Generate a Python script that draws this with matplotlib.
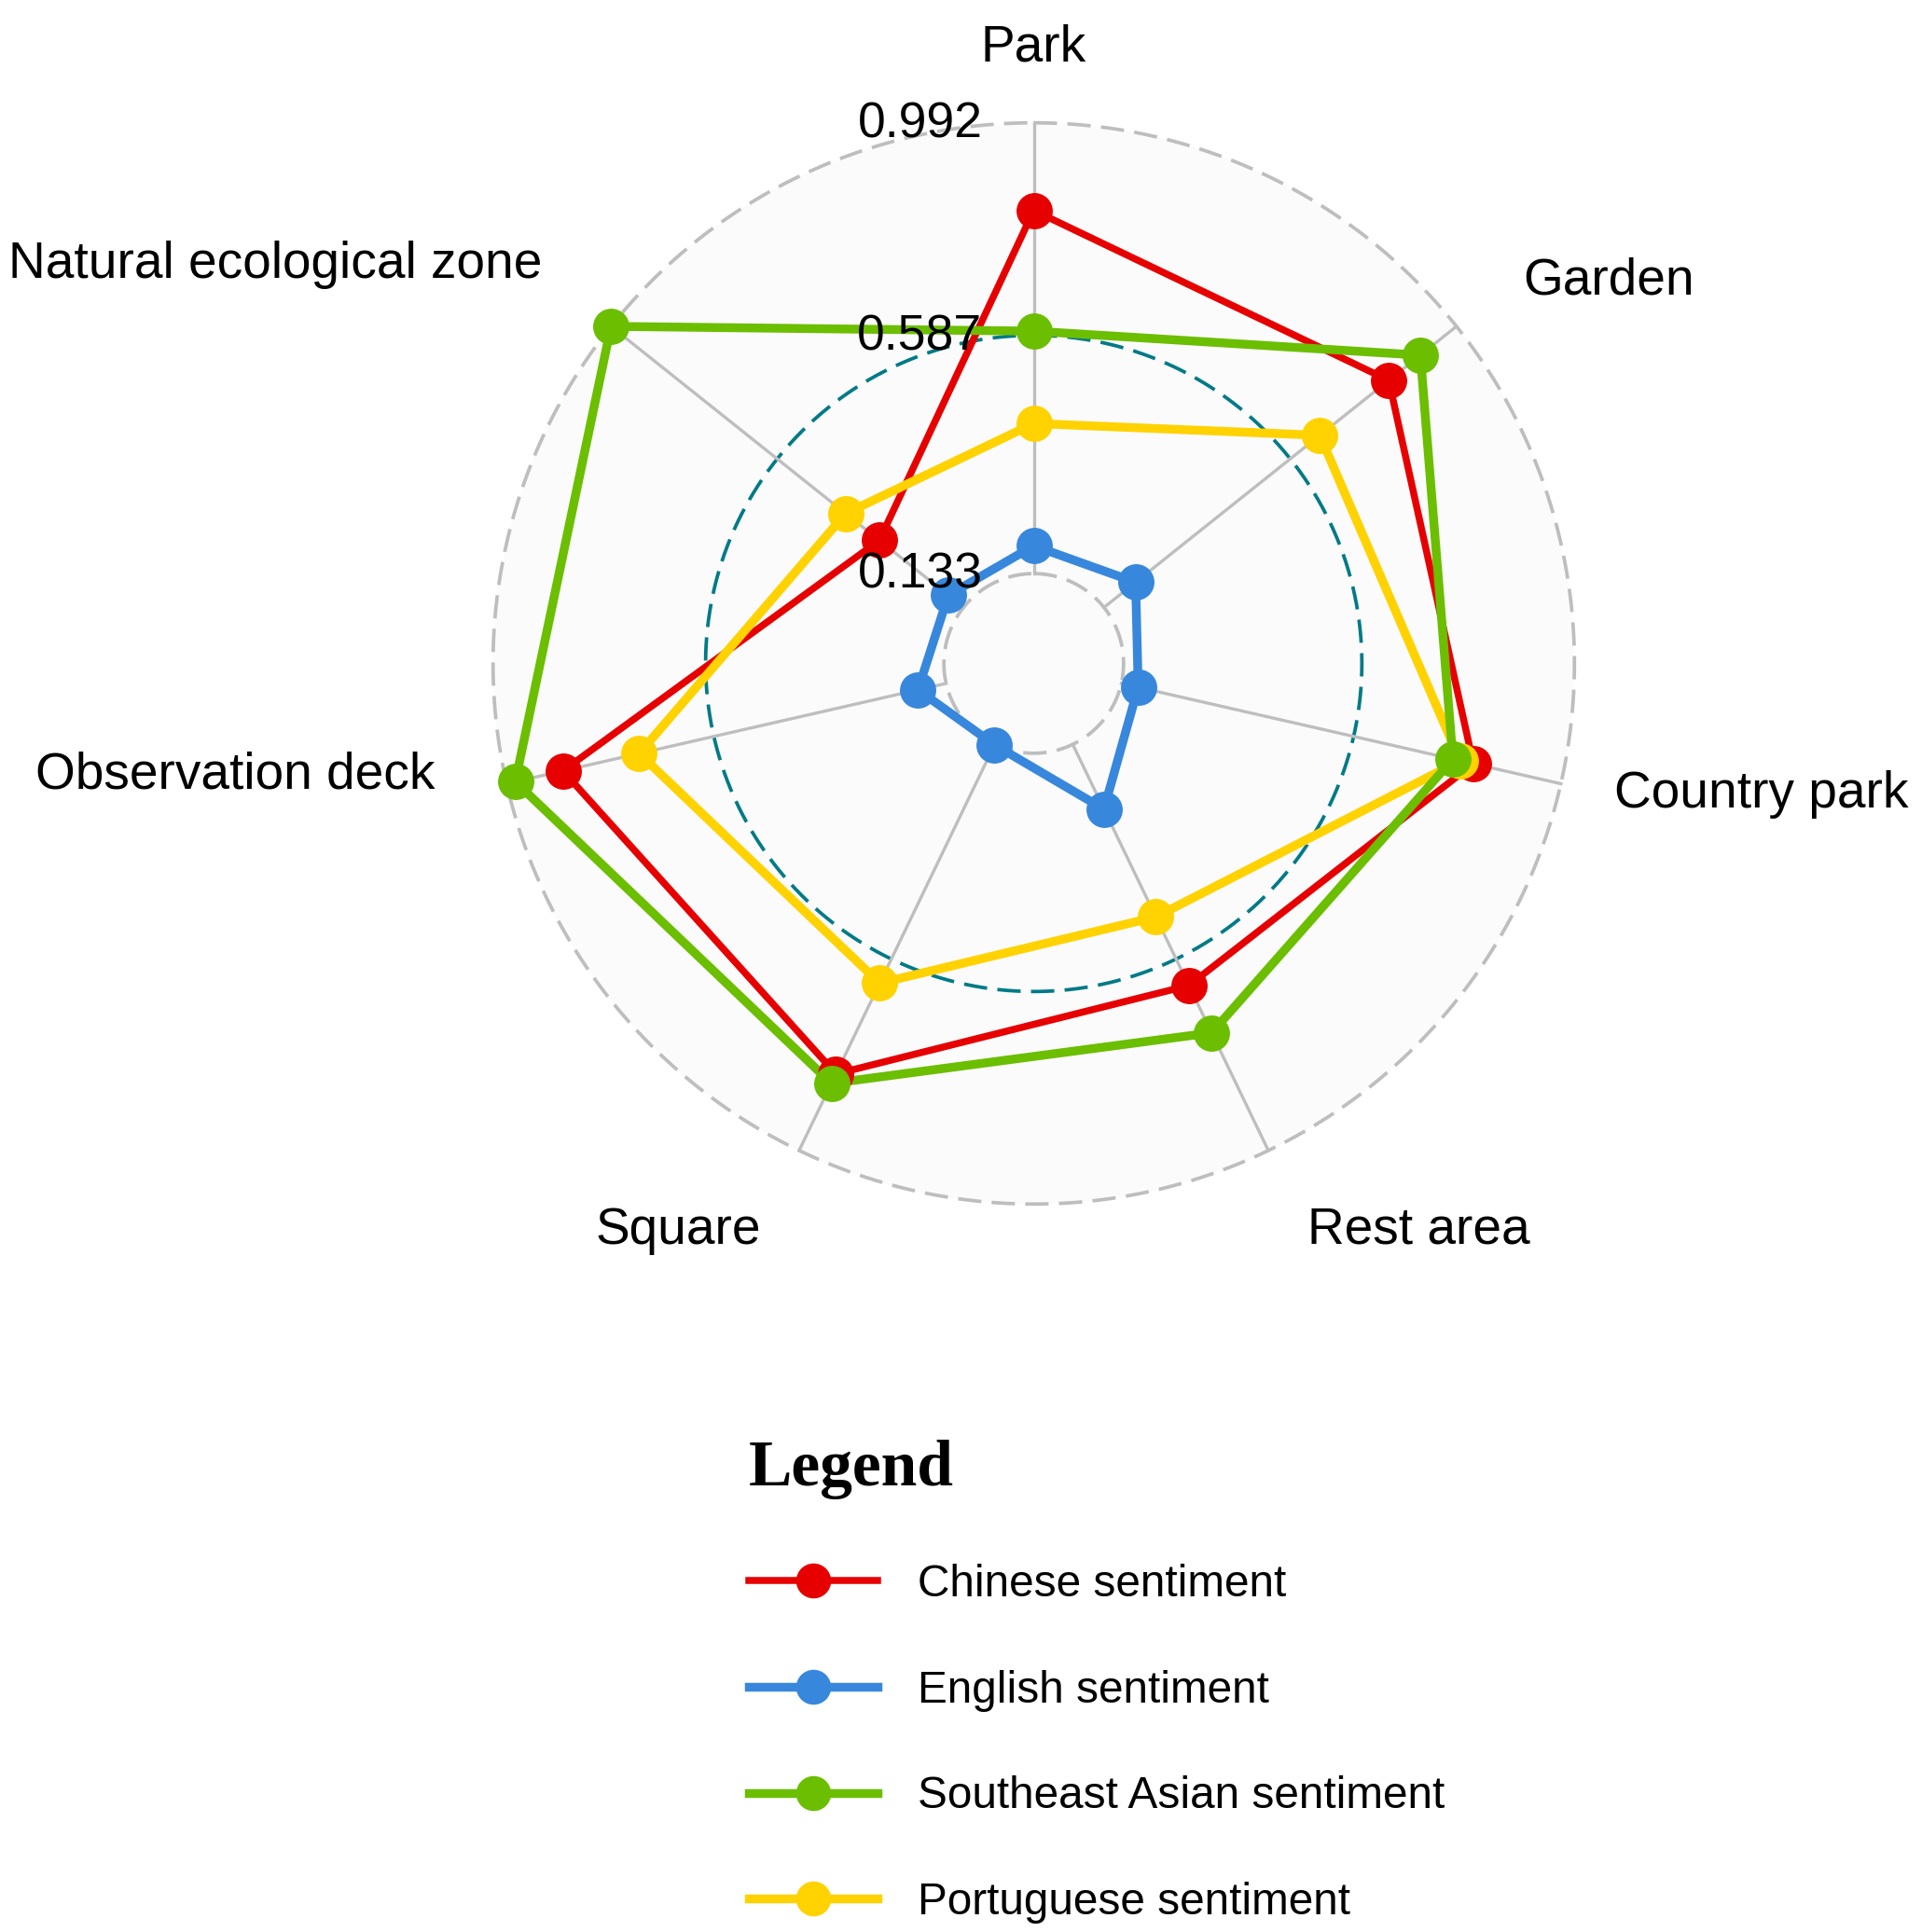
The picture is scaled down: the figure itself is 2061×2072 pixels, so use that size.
import numpy as np
import matplotlib
matplotlib.use("Agg")
import matplotlib.pyplot as plt
from matplotlib.lines import Line2D
import matplotlib.transforms as mtransforms

# ---------------- data ----------------
categories = ["Park", "Garden", "Country park", "Rest area", "Square",
              "Observation deck", "Natural ecological zone"]
chinese = [0.825, 0.827, 0.821, 0.643, 0.830, 0.882, 0.338]
english = [0.186, 0.210, 0.166, 0.270, 0.134, 0.188, 0.170]
southeast_asian = [0.595, 0.904, 0.781, 0.743, 0.850, 0.975, 0.992]
portuguese = [0.419, 0.659, 0.795, 0.498, 0.638, 0.733, 0.420]
series_names = ["Chinese sentiment", "English sentiment",
                "Southeast Asian sentiment", "Portuguese sentiment"]
grid_values = [0.133, 0.587, 0.992]
grid_labels = ["0.133", "0.587", "0.992"]
centre_value = -0.0382

# ---------------- style ----------------
plt.rcParams["lines.scale_dashes"] = False
SANS = "Liberation Sans"
colors = ["#E60000", "#3787DC", "#6BBE00", "#FFD200"]
line_widths = [5.4, 6.8, 6.8, 6.8]
draw_order = [0, 1, 3, 2]          # red, blue, yellow, green (green on top)
series = [chinese, english, southeast_asian, portuguese]

W, H, DPI = 2061, 2072, 100
fig = plt.figure(figsize=(W / DPI, H / DPI), dpi=DPI)
fig.patch.set_facecolor("white")

cx, cy, R = 1108.5, 711.5, 579.8
ax = fig.add_axes([(cx - R) / W, 1 - (cy + R) / H, 2 * R / W, 2 * R / H],
                  projection="polar")
ax.set_theta_zero_location("N")
ax.set_theta_direction(-1)
ax.set_ylim(centre_value, grid_values[-1])
ax.set_facecolor("#FBFBFB")
ax.spines["polar"].set_visible(False)
ax.set_xticks([])
ax.set_yticks([])
ax.grid(False)

n = len(categories)
angles = np.linspace(0, 2 * np.pi, n, endpoint=False)

# circular grid lines
tt = np.linspace(0, 2 * np.pi, 721)
grid_colors = ["#BEBEBE", "#007A87", "#BEBEBE"]
for gv, gc in zip(grid_values, grid_colors):
    ln, = ax.plot(tt, np.full_like(tt, gv), color=gc, lw=2.7, zorder=1,
                  clip_on=False)
    ln.set_dashes((18, 8))

# axis lines (from inner grid circle to outer)
for a in angles:
    ax.plot([a, a], [grid_values[0], grid_values[-1]], color="#BEBEBE",
            lw=2.4, zorder=1.5, clip_on=False)

# series lines then points
for i in draw_order:
    vals = list(series[i]) + [series[i][0]]
    th = list(angles) + [angles[0]]
    ax.plot(th, vals, color=colors[i], lw=line_widths[i], zorder=3,
            solid_joinstyle="round", clip_on=False)
for i in draw_order:
    ax.plot(angles, series[i], "o", color=colors[i], markersize=28,
            markeredgewidth=0, zorder=4, clip_on=False)

# grid value labels
off = mtransforms.offset_copy(ax.transData, fig=fig, x=-55, y=-15.5,
                              units="dots")
for gv, gl in zip(grid_values, grid_labels):
    ax.text(0, gv, gl, transform=off, ha="right", va="baseline",
            fontsize=38.5, family=SANS, zorder=5)

# category labels (pixel anchors: x, baseline y, alignment)
label_anchor = {
    "Park": (1108, 65, "center"),
    "Garden": (1633, 315, "left"),
    "Country park": (1731, 866.5, "left"),
    "Rest area": (1402, 1334, "left"),
    "Square": (816, 1334, "right"),
    "Observation deck": (467, 846, "right"),
    "Natural ecological zone": (581, 298.5, "right"),
}
for cat in categories:
    x, y, ha = label_anchor[cat]
    fig.text(x / W, 1 - y / H, cat, ha=ha, va="baseline", fontsize=39.6,
             family=SANS)

# legend
handles = [Line2D([], [], color=colors[i], lw=line_widths[i], marker="o",
                  markersize=27, markeredgewidth=0)
           for i in range(4)]
leg = fig.legend(handles, series_names, loc="upper left",
                 bbox_to_anchor=(803 / W, 1 - 1544 / H), frameon=False,
                 title="Legend",
                 title_fontproperties={"family": "Liberation Serif",
                                       "weight": "bold", "size": 50},
                 prop={"family": SANS, "size": 34.4},
                 handlelength=2.88, handletextpad=0.9, labelspacing=1.44,
                 borderpad=0, borderaxespad=0, alignment="left")

fig.savefig("out.png", dpi=DPI)
